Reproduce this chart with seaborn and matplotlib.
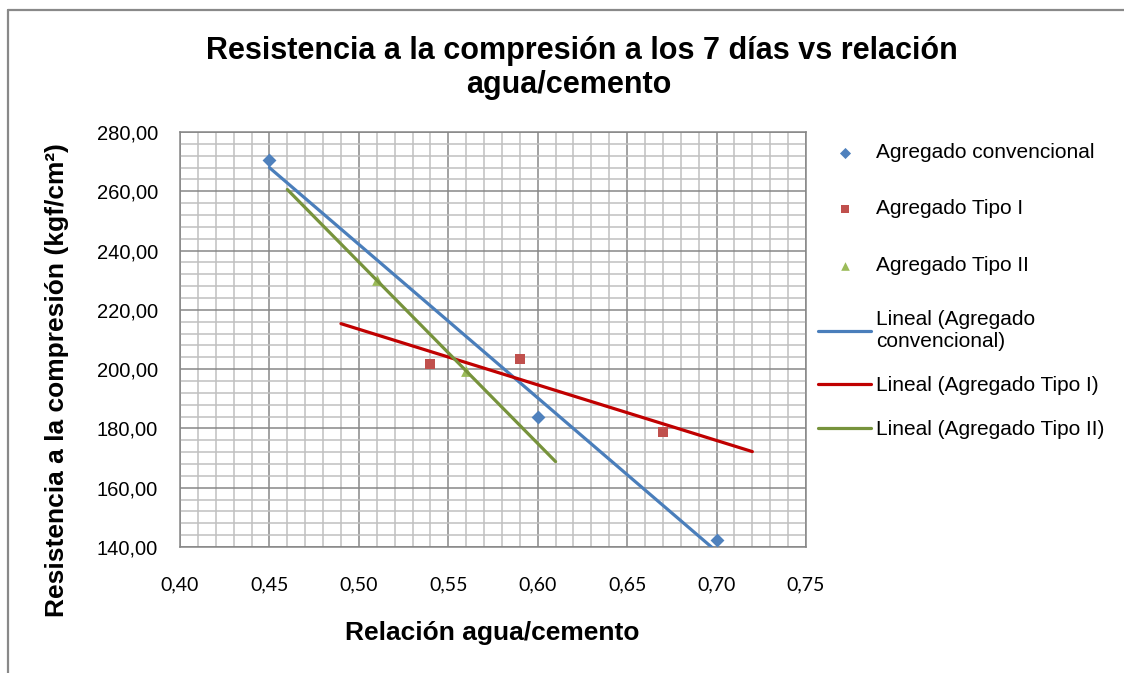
import numpy as np
import matplotlib
matplotlib.use('Agg')
import matplotlib.pyplot as plt
from matplotlib.lines import Line2D
from matplotlib.ticker import MultipleLocator, FuncFormatter
import seaborn as sns

# datos
x_conv = [0.45, 0.60, 0.70]
y_conv = [270.5, 184.0, 142.3]
x_t1 = [0.54, 0.59, 0.67]
y_t1 = [201.7, 203.5, 178.9]
x_t2 = [0.51, 0.56]
y_t2 = [230.0, 199.4]

series = ['Agregado convencional', 'Agregado Tipo I', 'Agregado Tipo II']
trend_labels = ['Lineal (Agregado\nconvencional)', 'Lineal (Agregado Tipo I)', 'Lineal (Agregado Tipo II)']
# pronostico hacia atras / adelante de cada linea de tendencia
forecast = [(0.0, 0.0), (0.05, 0.05), (0.05, 0.05)]

pt_colors = ['#4F81BD', '#C0504D', '#9BBB59']
ln_colors = ['#4A7EBB', '#C00000', '#77933C']
markers = ['D', 's', '^']
msizes = [50, 48, 60]

sns.set_theme(style='white')
plt.rcParams['font.family'] = ['Liberation Sans', 'DejaVu Sans']
plt.rcParams['text.color'] = 'black'

W, H = 1124, 673
fig = plt.figure(figsize=(W/100, H/100), dpi=100)
ax = fig.add_axes([180/W, 1-547/H, (806-180)/W, (547-132)/H])

data = [(x_conv, y_conv), (x_t1, y_t1), (x_t2, y_t2)]
for (xs, ys), lab, c, m, s in zip(data, series, pt_colors, markers, msizes):
    sns.scatterplot(x=xs, y=ys, marker=m, color=c, s=s, linewidth=0, ax=ax, label=lab, zorder=3)

for (xs, ys), lab, c, (fb, ff) in zip(data, trend_labels, ln_colors, forecast):
    k, b = np.polyfit(xs, ys, 1)
    xl = np.array([min(xs) - fb, max(xs) + ff])
    sns.lineplot(x=xl, y=k*xl + b, color=c, linewidth=2.3, ax=ax, label=lab, zorder=4)

ax.set_xlim(0.40, 0.75)
ax.set_ylim(140, 280)
ax.xaxis.set_major_locator(MultipleLocator(0.05))
ax.xaxis.set_minor_locator(MultipleLocator(0.01))
ax.yaxis.set_major_locator(MultipleLocator(20))
ax.yaxis.set_minor_locator(MultipleLocator(4))
ax.xaxis.set_major_formatter(FuncFormatter(lambda v, p: f'{v:.2f}'.replace('.', ',')))
ax.yaxis.set_major_formatter(FuncFormatter(lambda v, p: f'{v:.2f}'.replace('.', ',')))
ax.grid(which='minor', color='#c0c0c0', linewidth=1.1)
ax.grid(which='major', color='#878787', linewidth=1.1)
ax.set_axisbelow(True)
ax.tick_params(axis='both', which='both', length=0, colors='black')
ax.tick_params(axis='x', pad=21, labelsize=14, labelfontfamily='Lato')
ax.tick_params(axis='y', pad=16, labelsize=14.5)
for sp in ax.spines.values():
    sp.set_color('#868686')
    sp.set_linewidth(1.1)

h, l = ax.get_legend_handles_labels()
leg_kw = dict(loc='upper left', bbox_transform=fig.transFigure, frameon=False, fontsize=15,
              borderpad=0, borderaxespad=0, handlelength=2.55, handletextpad=0.25,
              labelcolor='black')
leg1 = ax.legend(h[:3], l[:3], bbox_to_anchor=(818/W, 1-143/H), labelspacing=1.8,
                 markerscale=0.8, **leg_kw)
ax.add_artist(leg1)
ax.legend(h[3:], l[3:], bbox_to_anchor=(818/W, 1-310/H), labelspacing=1.2, **leg_kw)

fig.text(582/W, 1-59/H, 'Resistencia a la compresión a los 7 días vs relación',
         ha='center', va='baseline', fontsize=22, fontweight='bold')
fig.text(569/W, 1-93/H, 'agua/cemento', ha='center', va='baseline', fontsize=22, fontweight='bold')
fig.text(57/W, 1-380/H, 'Resistencia a la compresión (kgf/cm²)', rotation=90,
         ha='center', va='center', fontsize=19, fontweight='bold')
fig.text(492/W, 1-633/H, 'Relación agua/cemento', ha='center', va='center',
         fontsize=19, fontweight='bold')

# borde del area del grafico
fig.add_artist(Line2D([8/W, 8/W], [0, 1-10/H], transform=fig.transFigure, color='#898989', linewidth=1.6))
fig.add_artist(Line2D([8/W, 1], [1-10/H, 1-10/H], transform=fig.transFigure, color='#898989', linewidth=1.6))

fig.savefig('out.png', dpi=100)
